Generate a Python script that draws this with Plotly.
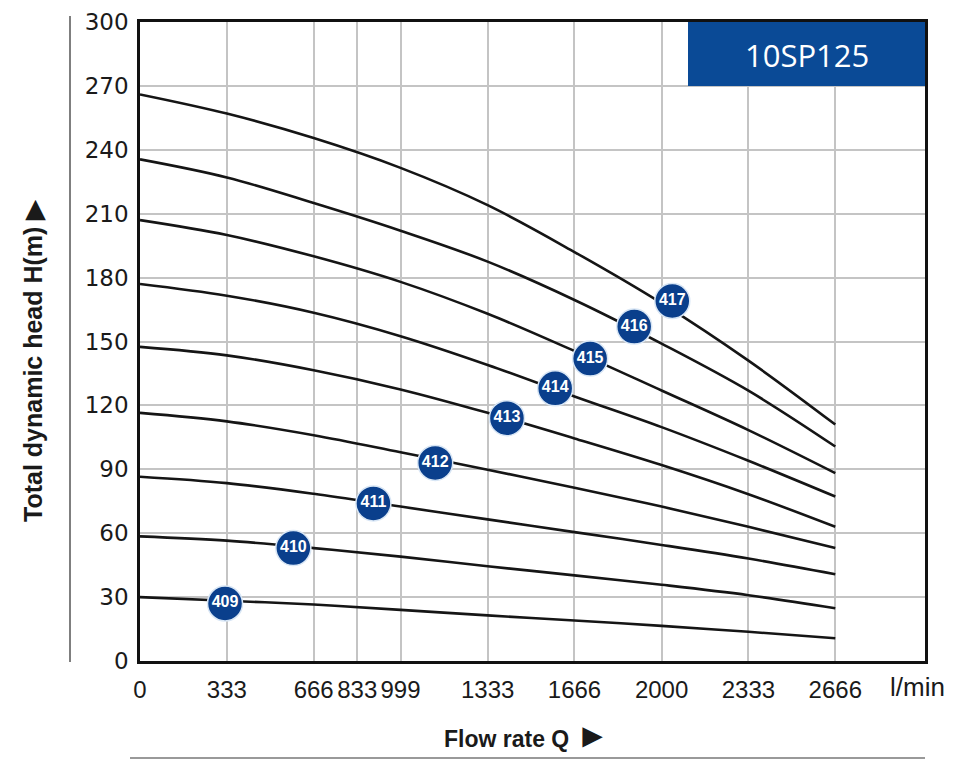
import plotly.graph_objects as go

# Flow rate tick positions (l/min)
flow_ticks = [0, 333, 666, 833, 999, 1333, 1666, 2000, 2333, 2666]
flow_tick_labels = ["0", "333", "666", "833", "999", "1333", "1666", "2000", "2333", "2666"]
head_ticks = [0, 30, 60, 90, 120, 150, 180, 210, 240, 270, 300]

# Curve sample flow rates
q = [0, 333, 666, 999, 1333, 1666, 2000, 2333, 2666]

# Head values (m) for each model
h_409 = [30, 28.3, 26.5, 24, 21.4, 19, 16.5, 13.7, 10.7]
h_410 = [58.5, 56.5, 53, 49, 44.5, 40.2, 35.8, 30.9, 24.8]
h_411 = [86.5, 83.5, 78.5, 72.5, 66.5, 60.5, 54.5, 48.1, 40.7]
h_412 = [116.5, 112.5, 106, 98, 89.8, 81.3, 72.5, 63, 53]
h_413 = [147.5, 143.5, 136.5, 127.5, 116.5, 104.5, 92, 78.3, 63]
h_414 = [177, 171.5, 163.5, 152.5, 139, 124.2, 109.8, 94, 77.2]
h_415 = [207, 200, 190, 178, 163, 145.5, 127, 108.4, 88.2]
h_416 = [235.5, 227, 215, 202, 187.5, 169.5, 149, 126.9, 100.7]
h_417 = [266, 257, 245.5, 231.5, 214, 192, 168, 141, 111]

curves = [h_409, h_410, h_411, h_412, h_413, h_414, h_415, h_416, h_417]

# Model label badges
model_labels = ["409", "410", "411", "412", "413", "414", "415", "416", "417"]
badge_q = [326, 588, 895, 1132, 1407, 1592, 1726, 1895, 2041]
badge_h = [27, 53, 74, 93, 114, 128, 142, 157, 169]

title_text = "10SP125"

fig = go.Figure()

for h in curves:
    fig.add_trace(go.Scatter(
        x=q, y=h, mode="lines", line=dict(color="#151515", width=2.6, shape="spline"),
        hoverinfo="skip", showlegend=False,
    ))

fig.add_trace(go.Scatter(
    x=badge_q, y=badge_h, mode="markers+text", text=model_labels,
    textposition="middle center",
    textfont=dict(family="Liberation Sans", size=16, color="white", weight="bold"),
    marker=dict(size=35, color="#0a3f8c", line=dict(color="#d8e6f5", width=1.5)),
    showlegend=False, hoverinfo="skip",
))

# Page body has an 8px margin; the figure is sized so the plot sits where the reference has it.
OFF = 8
W, H = 953 - OFF, 761 - OFF
PL, PR, PT, PB = 140, 925, 22, 661   # plot area in page pixels
L, T = PL - OFF, PT - OFF
R, B = W - (PR - OFF), H - (PB - OFF)
pw, ph = PR - PL, PB - PT

def px(x):
    return (x - PL) / pw

def py(y):
    return (PB - y) / ph

fig.update_layout(
    width=W, height=H,
    margin=dict(l=L, r=R, t=T, b=B, autoexpand=False),
    paper_bgcolor="white", plot_bgcolor="white",
    showlegend=False,
    xaxis=dict(
        range=[0, 3010], tickvals=flow_ticks, ticktext=flow_tick_labels,
        showgrid=True, gridcolor="#c4c4c4", gridwidth=1.5,
        showline=True, linecolor="#111", linewidth=2.5, mirror=True,
        zeroline=False, ticks="outside", ticklen=5, tickcolor="rgba(0,0,0,0)",
        tickfont=dict(family="Liberation Sans", size=24, color="#1a1a1a"),
        automargin=False,
    ),
    yaxis=dict(
        range=[0, 300], tickvals=head_ticks,
        showgrid=True, gridcolor="#c4c4c4", gridwidth=1.5,
        showline=True, linecolor="#111", linewidth=2.5, mirror=True,
        zeroline=False, ticks="outside", ticklen=4, tickcolor="rgba(0,0,0,0)",
        tickfont=dict(family="DejaVu Sans", size=23, color="#1a1a1a"),
        automargin=False,
    ),
)

# Title box in top-right corner
fig.add_shape(type="rect", xref="paper", yref="y", x0=px(688), x1=1.0, y0=270, y1=300,
              fillcolor="#0a4a96", line=dict(width=0), layer="above")
fig.add_annotation(xref="paper", yref="paper", x=px(806.5), y=py(55), text=title_text,
                   showarrow=False, xanchor="center", yanchor="middle",
                   font=dict(family="Open Sans", size=31, color="white"))

# Axis titles
fig.add_annotation(xref="paper", yref="paper", x=px(33), y=py(361),
                   text="Total dynamic head H(m) ▶", textangle=-90, showarrow=False,
                   xanchor="center", yanchor="middle",
                   font=dict(family="Liberation Sans", size=25, color="#1a1a1a", weight="bold"))
fig.add_annotation(xref="paper", yref="paper", x=px(526), y=py(735),
                   text="Flow rate Q <span style='font-size:34px'>►</span>", showarrow=False,
                   xanchor="center", yanchor="middle",
                   font=dict(family="Liberation Sans", size=23, color="#1a1a1a", weight="bold"))
fig.add_annotation(xref="paper", yref="paper", x=px(888), y=py(687),
                   text="l/min", showarrow=False, xanchor="left", yanchor="middle",
                   font=dict(family="Liberation Sans", size=26, color="#1a1a1a"))

# Decorative lines
fig.add_shape(type="line", xref="paper", yref="paper", x0=px(70), x1=px(70), y0=py(662), y1=py(16),
              line=dict(color="#555", width=1.5))
fig.add_shape(type="line", xref="paper", yref="paper", x0=px(130), x1=px(925), y0=py(758), y1=py(758),
              line=dict(color="#777", width=1.5))

fig.write_html("out.html")
